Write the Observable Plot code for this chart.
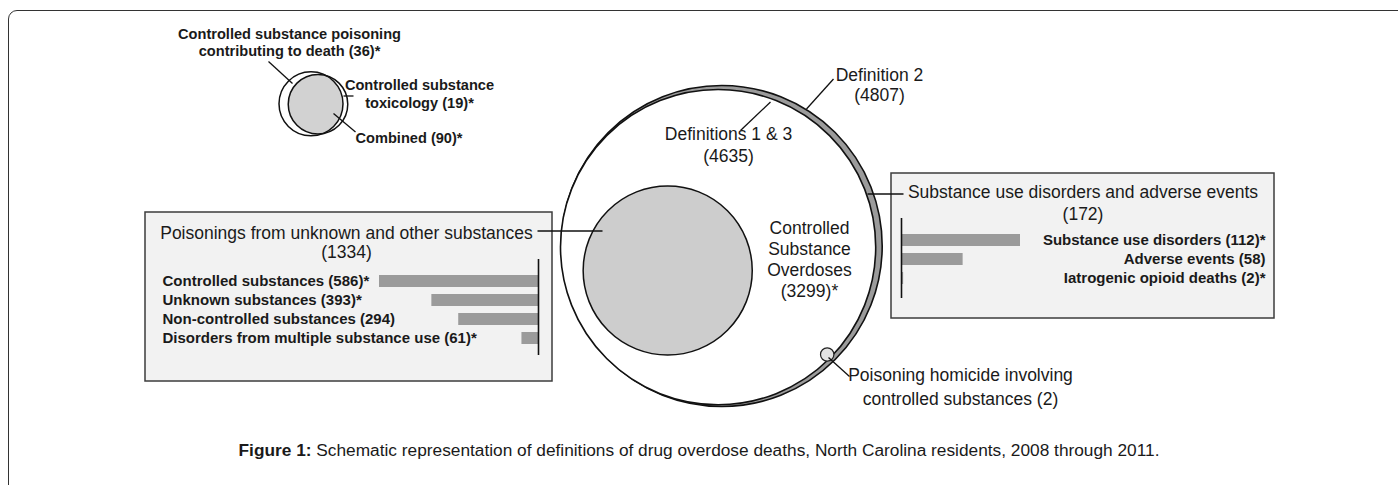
<!DOCTYPE html>
<html>
<head>
<meta charset="utf-8">
<script src="https://cdn.jsdelivr.net/npm/d3@7"></script>
<script src="https://cdn.jsdelivr.net/npm/@observablehq/plot@0.6"></script>
<style>
  html, body { margin: 0; padding: 0; background: #fff; }
  #wrap { position: relative; width: 1398px; height: 485px; overflow: hidden; background: #fff;
          font-family: "Liberation Sans", Arial, Helvetica, sans-serif; }
  #frame { position: absolute; left: 8px; top: 10px; width: 1500px; height: 600px;
           border: 1.4px solid #333; border-radius: 9px; box-sizing: border-box; }
  .layer { position: absolute; }
  .layer svg { display: block; overflow: visible; }
  #caption { position: absolute; left: 0; width: 1398px; top: 442px; text-align: center;
             font-size: 17.3px; line-height: 17px; color: #1a1a1a; white-space: nowrap; }
</style>
</head>
<body>
<div id="wrap">
  <div id="frame"></div>
  <div id="mainLayer" class="layer" style="left:0;top:0;width:1398px;height:430px;"></div>
  <div id="vennLayer" class="layer" style="left:0;top:0;width:1398px;height:430px;"></div>
  <div id="leftBars" class="layer" style="left:160px;top:250px;width:382px;height:110px;"></div>
  <div id="rightBars" class="layer" style="left:895px;top:210px;width:375px;height:95px;"></div>
  <div id="caption"><b>Figure 1:</b> Schematic representation of definitions of drug overdose deaths, North Carolina residents, 2008 through 2011.</div>
</div>
<script>
// ---------------- DATA ----------------
const defNames  = ["Definition 2", "Definitions 1 & 3", "Controlled\nSubstance\nOverdoses", "Poisoning homicide involving\ncontrolled substances"];
const defTotals = [4807, 4635, 3299, 2];
const defStar   = [false, false, true, false];

const groupNames  = ["Poisonings from unknown and other substances", "Substance use disorders and adverse events"];
const groupTotals = [1334, 172];

const leftNames  = ["Controlled substances", "Unknown substances", "Non-controlled substances", "Disorders from multiple substance use"];
const leftValues = [586, 393, 294, 61];
const leftStar   = [true, true, false, true];

const rightNames  = ["Substance use disorders", "Adverse events", "Iatrogenic opioid deaths"];
const rightValues = [112, 58, 2];
const rightStar   = [true, false, true];

const vennNames  = ["Controlled substance poisoning\ncontributing to death", "Controlled substance\ntoxicology", "Combined"];
const vennValues = [36, 19, 90];
const vennStar   = [true, true, true];

// ---------------- HELPERS ----------------
const FONT = '"Liberation Sans", Arial, Helvetica, sans-serif';
const INK = "#1a1a1a";
const W = 1398, H = 430;
const star = s => s ? "*" : "";
const withCount = (name, v, s, sep) => `${name}${sep}(${v})${star(s)}`;

function label(t, x, y, o = {}) {
  return Plot.text([{x, y, t}], {
    x: "x", y: "y", text: "t",
    lineAnchor: "bottom", textAnchor: o.anchor || "middle",
    fontSize: o.size || 17.5, fontWeight: o.weight || "normal",
    lineHeight: o.lh || 1.2, fill: INK
  });
}

// ---------------- MAIN SCHEMATIC ----------------
const boxes = [
  {x1: 145, x2: 552, y1: 212, y2: 381},
  {x1: 891, x2: 1274, y1: 173, y2: 318}
];
const leaders = [
  {x1: 806, y1: 108.5, x2: 833, y2: 78.5},   // Definition 2
  {x1: 740, y1: 130,   x2: 770, y2: 101.5},  // Definitions 1 & 3
  {x1: 537, y1: 230.5, x2: 602, y2: 230.5},  // Poisonings
  {x1: 867, y1: 193.5, x2: 903, y2: 193.5},  // Substance use disorders
  {x1: 828, y1: 357,   x2: 849, y2: 376}     // Homicide
];

const main = Plot.plot({
  width: W, height: H, margin: 0,
  x: {domain: [0, W], range: [0, W], axis: null},
  y: {domain: [0, H], range: [0, H], axis: null},
  r: {type: "sqrt", domain: [0, defTotals[0]], range: [0, 160.5]},
  style: {fontFamily: FONT, background: "transparent", overflow: "visible"},
  marks: [
    Plot.rect(boxes, {x1: "x1", x2: "x2", y1: "y1", y2: "y2", fill: "#f2f2f2", stroke: "#3c3c3c", strokeWidth: 1.5}),
    Plot.dot([{x: 721.2, y: 245.5, v: defTotals[0]}], {x: "x", y: "y", r: "v", fill: "#9b9b9b", stroke: "#111", strokeWidth: 1.6}),
    Plot.dot([{x: 717.6, y: 246.6, v: defTotals[1]}], {x: "x", y: "y", r: "v", fill: "#fff", stroke: "#111", strokeWidth: 1.6}),
    Plot.dot([{x: 667.2, y: 270, v: groupTotals[0]}], {x: "x", y: "y", r: "v", fill: "#cdcdcd", stroke: "#111", strokeWidth: 1.5}),
    Plot.dot([{x: 826.7, y: 354}], {x: "x", y: "y", r: 6.7, fill: "#e4e4e4", stroke: "#222", strokeWidth: 1.2}),
    Plot.link(leaders, {x1: "x1", y1: "y1", x2: "x2", y2: "y2", stroke: "#111", strokeWidth: 1.3}),
    label(withCount(defNames[0], defTotals[0], defStar[0], "\n"), 879, 100, {lh: 1.114}),
    label(withCount(defNames[1], defTotals[1], defStar[1], "\n"), 728, 161.3, {lh: 1.23}),
    label(withCount(defNames[2], defTotals[2], defStar[2], "\n"), 809, 296, {lh: 1.19}),
    label(withCount(defNames[3], defTotals[3], defStar[3], " "), 960, 404, {lh: 1.33}),
    label(withCount(groupNames[0], groupTotals[0], false, "\n"), 346, 257.5, {lh: 1.08}),
    label(withCount(groupNames[1], groupTotals[1], false, "\n"), 1082.5, 219.6, {lh: 1.26})
  ]
});
document.getElementById("mainLayer").appendChild(main);

// ---------------- VENN INSET ----------------
const vA = vennValues[0] + vennValues[2];
const vB = vennValues[1] + vennValues[2];
const vennLeaders = [
  {x1: 268, y1: 61, x2: 292, y2: 83},
  {x1: 343, y1: 95.5, x2: 353, y2: 95.5},
  {x1: 333, y1: 113, x2: 355, y2: 131.5}
];
const venn = Plot.plot({
  width: W, height: H, margin: 0,
  x: {domain: [0, W], range: [0, W], axis: null},
  y: {domain: [0, H], range: [0, H], axis: null},
  r: {type: "sqrt", domain: [0, vA], range: [0, 32]},
  style: {fontFamily: FONT, background: "transparent", overflow: "visible"},
  marks: [
    Plot.dot([{x: 310.5, y: 103.3, v: vA}], {x: "x", y: "y", r: "v", fill: "#fff"}),
    Plot.dot([{x: 317.5, y: 103.7, v: vB}], {x: "x", y: "y", r: "v", fill: "#fff"}),
    Plot.dot([{x: 310.5, y: 103.3, v: vA}], {x: "x", y: "y", r: "v", fill: "#d2d2d2"}),
    Plot.dot([{x: 310.5, y: 103.3, v: vA}], {x: "x", y: "y", r: "v", fill: "none", stroke: "#111", strokeWidth: 1.5}),
    Plot.dot([{x: 317.5, y: 103.7, v: vB}], {x: "x", y: "y", r: "v", fill: "none", stroke: "#111", strokeWidth: 1.5}),
    Plot.link(vennLeaders, {x1: "x1", y1: "y1", x2: "x2", y2: "y2", stroke: "#111", strokeWidth: 1.3}),
    label(withCount(vennNames[0], vennValues[0], vennStar[0], " "), 289, 55.7, {size: 14.6, weight: "bold", lh: 1.16}),
    label(withCount(vennNames[1], vennValues[1], vennStar[1], " "), 419, 107.4, {size: 14.6, weight: "bold", lh: 1.26}),
    label(withCount(vennNames[2], vennValues[2], vennStar[2], " "), 408.5, 142.2, {size: 14.6, weight: "bold"})
  ]
});
// lens: clip the grey copy of circle A by circle B
{
  const groups = venn.querySelectorAll('g[aria-label="dot"]');
  const bCircle = groups[1].querySelector("circle");
  const ns = "http://www.w3.org/2000/svg";
  const defs = document.createElementNS(ns, "defs");
  const cp = document.createElementNS(ns, "clipPath");
  cp.setAttribute("id", "lensB");
  cp.appendChild(bCircle.cloneNode(true));
  defs.appendChild(cp);
  venn.insertBefore(defs, venn.firstChild);
  groups[2].setAttribute("clip-path", "url(#lensB)");
}
document.getElementById("vennLayer").appendChild(venn);

// ---------------- LEFT BAR PANEL ----------------
const leftData = leftNames.map((n, i) => ({name: n, value: leftValues[i], label: withCount(n, leftValues[i], leftStar[i], " ")}));
const leftPlot = Plot.plot({
  width: 382, height: 110,
  marginLeft: 0, marginRight: 0, marginTop: 9, marginBottom: 5,
  x: {domain: [0, d3.max(leftValues)], range: [378, 219], axis: null},
  y: {domain: leftNames, range: [17.1, 102.9], padding: 0.36, axis: null},
  style: {fontFamily: FONT, background: "transparent", overflow: "visible"},
  marks: [
    Plot.barX(leftData, {x: "value", y: "name", fill: "#9b9b9b"}),
    Plot.ruleX([0], {stroke: "#111", strokeWidth: 1.6}),
    Plot.text(leftData, {y: "name", text: "label", frameAnchor: "left", textAnchor: "start", dx: 2,
                         fontSize: 15, fontWeight: "bold", fill: INK})
  ]
});
document.getElementById("leftBars").appendChild(leftPlot);

// ---------------- RIGHT BAR PANEL ----------------
const rightData = rightNames.map((n, i) => ({name: n, value: rightValues[i], label: withCount(n, rightValues[i], rightStar[i], " ")}));
const rightPlot = Plot.plot({
  width: 375, height: 95,
  marginLeft: 0, marginRight: 5, marginTop: 8, marginBottom: 7,
  x: {domain: [0, d3.max(rightValues)], range: [6, 125], axis: null},
  y: {domain: rightNames, range: [16.1, 82.4], padding: 0.36, axis: null},
  style: {fontFamily: FONT, background: "transparent", overflow: "visible"},
  marks: [
    Plot.barX(rightData, {x: "value", y: "name", fill: "#9b9b9b"}),
    Plot.ruleX([0], {stroke: "#111", strokeWidth: 1.6}),
    Plot.text(rightData, {y: "name", text: "label", frameAnchor: "right", textAnchor: "end",
                          fontSize: 15, fontWeight: "bold", fill: INK})
  ]
});
document.getElementById("rightBars").appendChild(rightPlot);
</script>
</body>
</html>
